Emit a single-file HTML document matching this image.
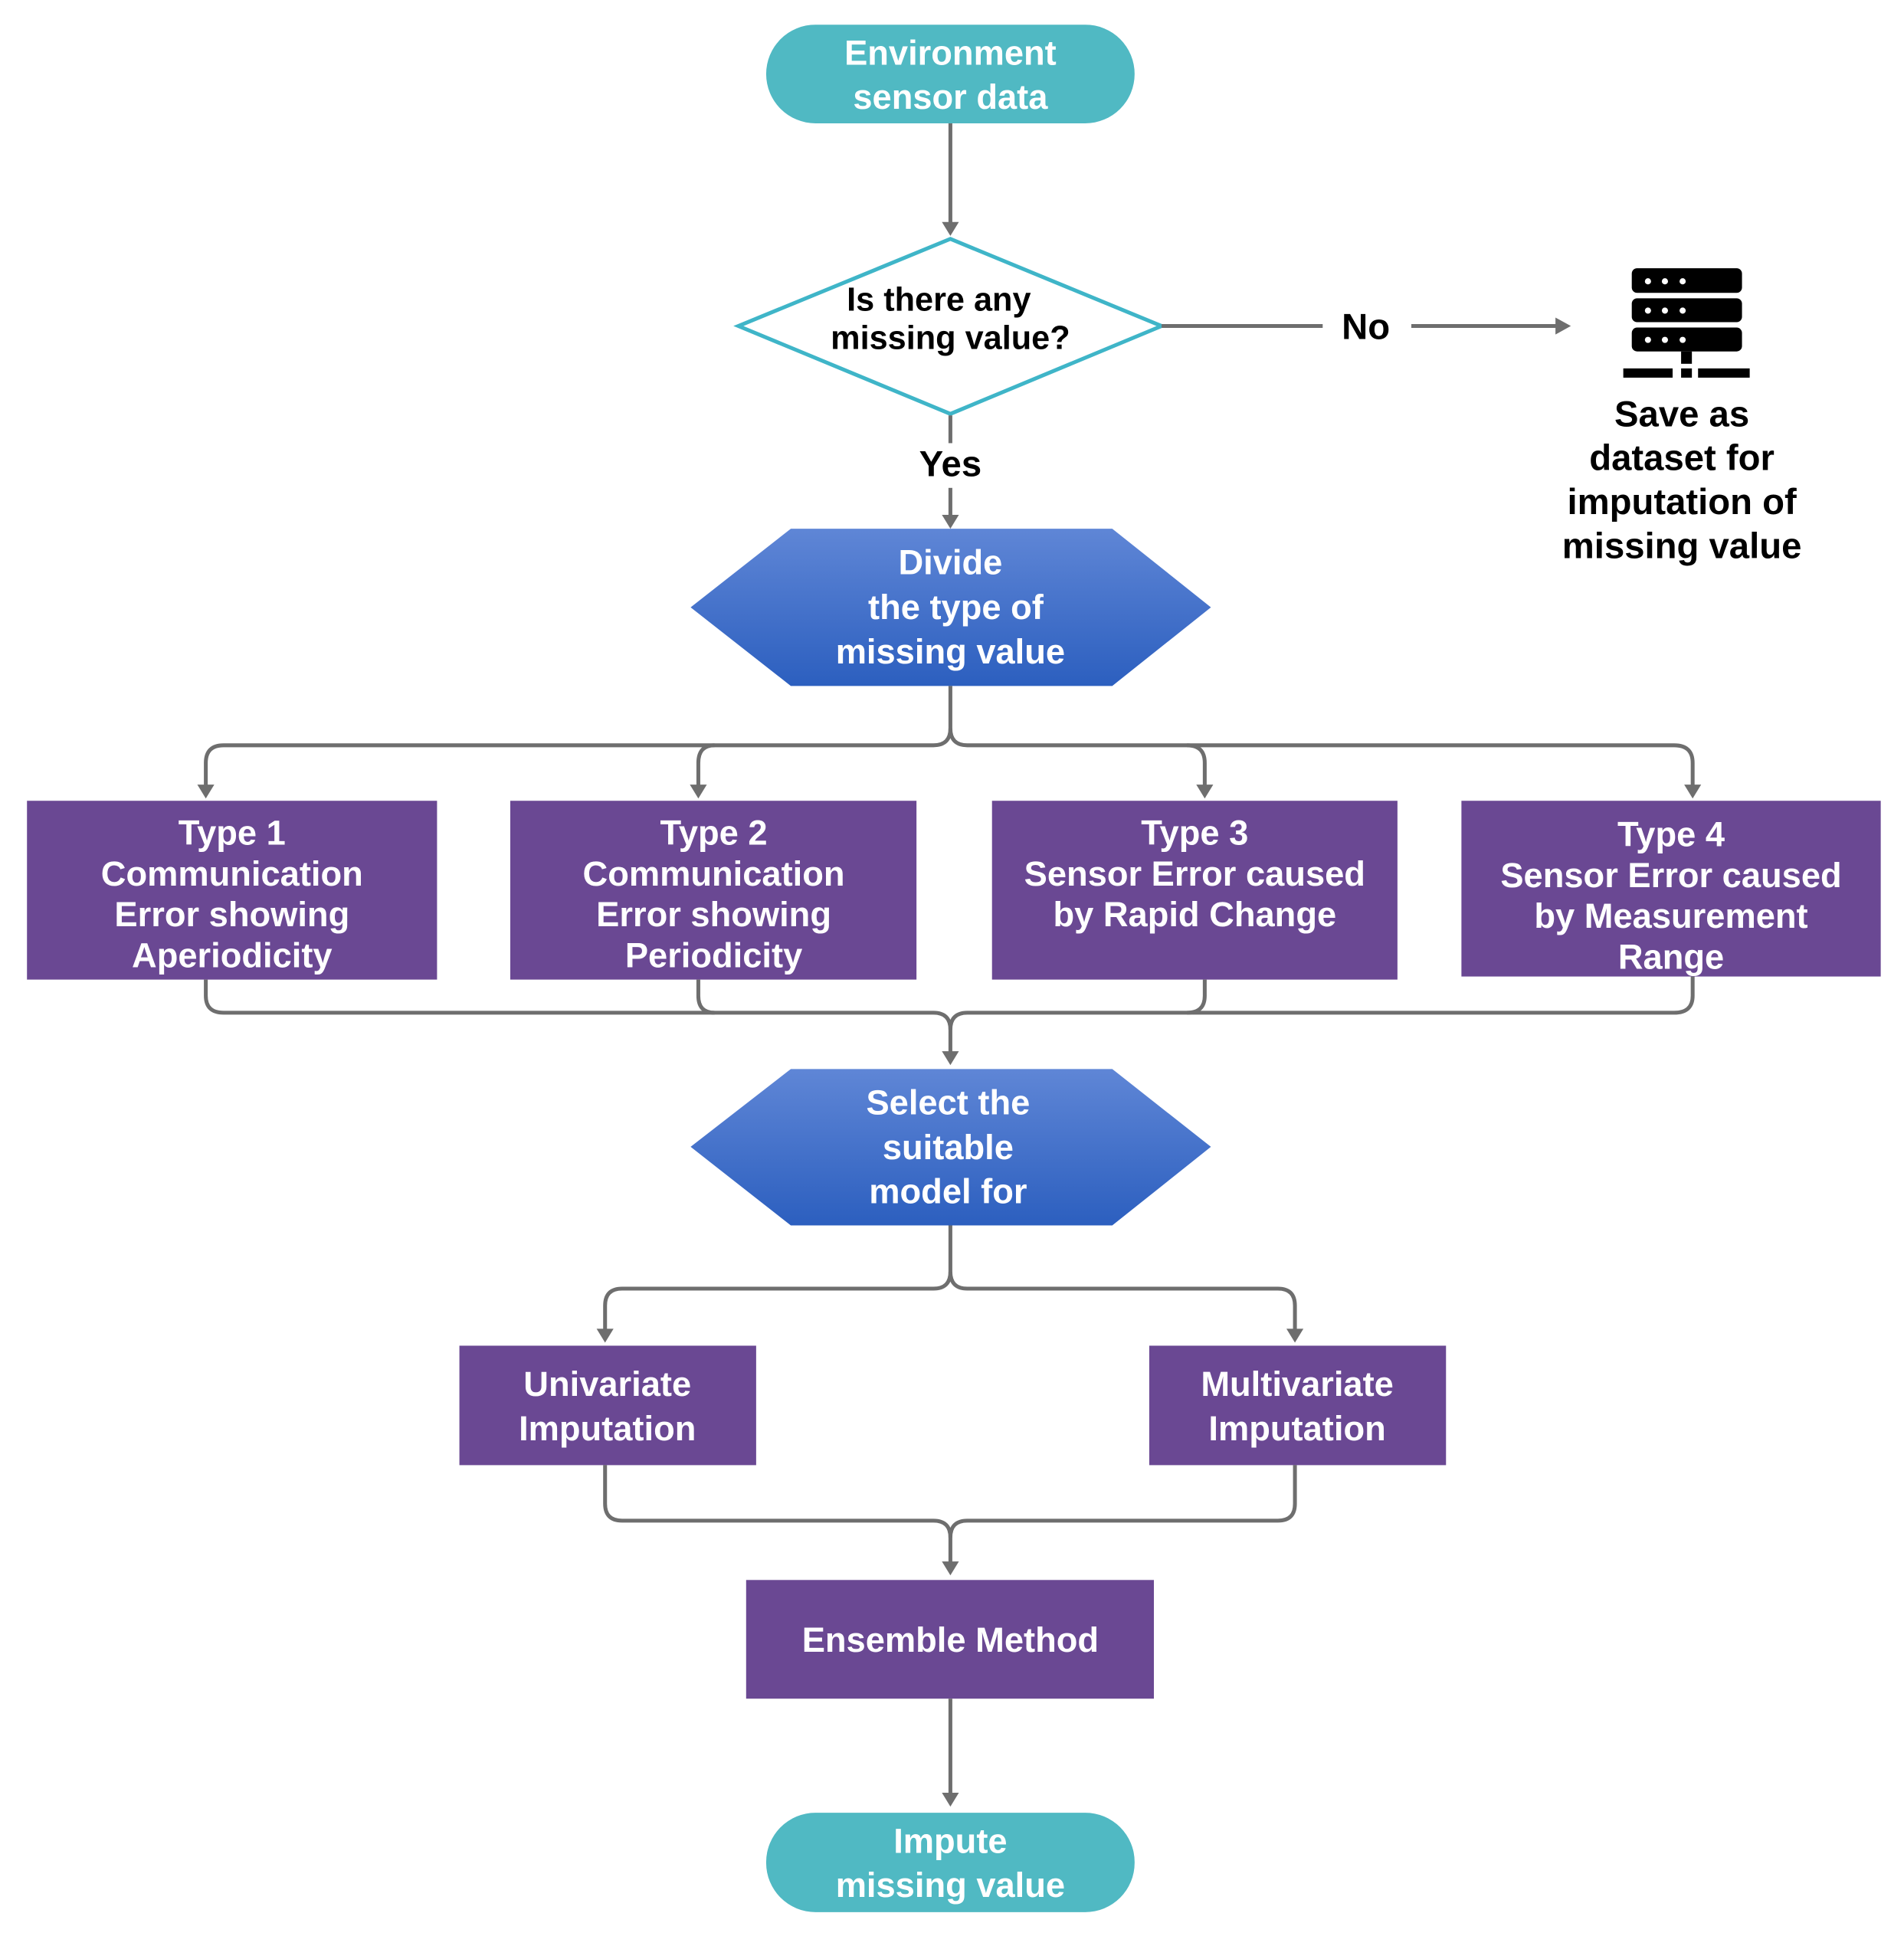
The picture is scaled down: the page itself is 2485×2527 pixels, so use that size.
<!DOCTYPE html>
<html><head><meta charset="utf-8"><style>
html,body{margin:0;padding:0;background:#fff;}
svg{display:block}
text{font-family:"Liberation Sans",sans-serif;font-weight:bold;text-anchor:middle;}
.w{fill:#fff;font-size:45px}
.k{fill:#000;font-size:47px}
.ln{stroke:#6e6e6e;stroke-width:5;fill:none}
</style></head><body>
<svg width="2485" height="2527" viewBox="0 0 2485 2527" xmlns="http://www.w3.org/2000/svg">
<defs>
<linearGradient id="bg" x1="0" y1="0" x2="0" y2="1"><stop offset="0" stop-color="#5f86d6"/><stop offset="1" stop-color="#2c5fbf"/></linearGradient>
</defs>
<g transform="scale(1.006)">
<rect x="994" y="32" width="478" height="128" rx="64" fill="#50b9c3"/>
<text class="w" x="1233" y="84">Environment</text>
<text class="w" x="1233" y="141">sensor data</text>
<line class="ln" x1="1233" y1="160" x2="1233" y2="290"/>
<polygon points="1222,288 1244,288 1233,306" fill="#6e6e6e"/>
<polygon points="1233,310 1507,423 1233,537 958,423" fill="#fff" stroke="#3fb5c8" stroke-width="5"/>
<text class="k" x="1218" y="403" style="font-size:43px">Is there any</text>
<text class="k" x="1233" y="453" style="font-size:43px">missing value?</text>
<line class="ln" x1="1507" y1="423" x2="1716" y2="423"/>
<text class="k" x="1772" y="440">No</text>
<line class="ln" x1="1831" y1="423" x2="2020" y2="423"/>
<polygon points="2018,412 2038,423 2018,434" fill="#6e6e6e"/>
<g fill="#000">
<rect x="2117" y="348" width="143" height="32" rx="7"/>
<rect x="2117" y="387" width="143" height="31" rx="7"/>
<rect x="2117" y="425" width="143" height="31" rx="7"/>
<rect x="2181" y="456" width="14" height="16"/>
<rect x="2106" y="478" width="64" height="12"/>
<rect x="2181" y="478" width="14" height="12"/>
<rect x="2203" y="478" width="67" height="12"/>
</g>
<g fill="#fff">
<circle cx="2138" cy="365" r="4"/><circle cx="2160" cy="365" r="4"/><circle cx="2183" cy="365" r="4"/>
<circle cx="2138" cy="403" r="4"/><circle cx="2160" cy="403" r="4"/><circle cx="2183" cy="403" r="4"/>
<circle cx="2138" cy="441" r="4"/><circle cx="2160" cy="441" r="4"/><circle cx="2183" cy="441" r="4"/>
</g>
<text class="k" x="2182" y="553">Save as</text>
<text class="k" x="2182" y="610">dataset for</text>
<text class="k" x="2182" y="667">imputation of</text>
<text class="k" x="2182" y="724">missing value</text>
<line class="ln" x1="1233" y1="539" x2="1233" y2="575"/>
<text class="k" x="1233" y="618">Yes</text>
<line class="ln" x1="1233" y1="633" x2="1233" y2="670"/>
<polygon points="1222,668 1244,668 1233,686" fill="#6e6e6e"/>
<polygon points="1026,686 1443,686 1571,788 1443,890 1026,890 896,788" fill="url(#bg)"/>
<text class="w" x="1233" y="745">Divide</text>
<text class="w" x="1240" y="803">the type of</text>
<text class="w" x="1233" y="861">missing value</text>
<path class="ln" d="M1233,890 V945 Q1233,967 1211,967 H290 Q267,967 267,990 V1020"/>
<path class="ln" d="M1233,945 Q1233,967 1255,967 H2172 Q2196,967 2196,990 V1020"/>
<path class="ln" d="M927,967 Q906,967 906,990 V1020"/>
<path class="ln" d="M1540,967 Q1563,967 1563,990 V1020"/>
<g fill="#6e6e6e">
<polygon points="256,1018 278,1018 267,1036"/>
<polygon points="895,1018 917,1018 906,1036"/>
<polygon points="1552,1018 1574,1018 1563,1036"/>
<polygon points="2185,1018 2207,1018 2196,1036"/>
</g>
<g fill="#6a4893">
<rect x="35" y="1039" width="532" height="232"/>
<rect x="662" y="1039" width="527" height="232"/>
<rect x="1287" y="1039" width="526" height="232"/>
<rect x="1896" y="1039" width="544" height="228"/>
</g>
<text class="w" x="301" y="1096">Type 1</text>
<text class="w" x="301" y="1149">Communication</text>
<text class="w" x="301" y="1202">Error showing</text>
<text class="w" x="301" y="1255">Aperiodicity</text>
<text class="w" x="926" y="1096">Type 2</text>
<text class="w" x="926" y="1149">Communication</text>
<text class="w" x="926" y="1202">Error showing</text>
<text class="w" x="926" y="1255">Periodicity</text>
<text class="w" x="1550" y="1096">Type 3</text>
<text class="w" x="1550" y="1149">Sensor Error caused</text>
<text class="w" x="1550" y="1202">by Rapid Change</text>
<text class="w" x="2168" y="1098">Type 4</text>
<text class="w" x="2168" y="1151">Sensor Error caused</text>
<text class="w" x="2168" y="1204">by Measurement</text>
<text class="w" x="2168" y="1257">Range</text>
<path class="ln" d="M267,1271 V1292 Q267,1314 290,1314 H1211 Q1233,1314 1233,1336 V1366"/>
<path class="ln" d="M2196,1267 V1292 Q2196,1314 2172,1314 H1255 Q1233,1314 1233,1336"/>
<path class="ln" d="M906,1271 V1292 Q906,1314 927,1314"/>
<path class="ln" d="M1563,1271 V1292 Q1563,1314 1540,1314"/>
<polygon points="1222,1364 1244,1364 1233,1382" fill="#6e6e6e"/>
<polygon points="1026,1387 1443,1387 1571,1488 1443,1590 1026,1590 896,1488" fill="url(#bg)"/>
<text class="w" x="1230" y="1446">Select the</text>
<text class="w" x="1230" y="1504">suitable</text>
<text class="w" x="1230" y="1561">model for</text>
<path class="ln" d="M1233,1590 V1650 Q1233,1672 1211,1672 H807 Q785,1672 785,1694 V1726"/>
<path class="ln" d="M1233,1650 Q1233,1672 1255,1672 H1658 Q1680,1672 1680,1694 V1726"/>
<polygon points="774,1724 796,1724 785,1742" fill="#6e6e6e"/>
<polygon points="1669,1724 1691,1724 1680,1742" fill="#6e6e6e"/>
<rect x="596" y="1746" width="385" height="155" fill="#6a4893"/>
<rect x="1491" y="1746" width="385" height="155" fill="#6a4893"/>
<text class="w" x="788" y="1811">Univariate</text>
<text class="w" x="788" y="1869">Imputation</text>
<text class="w" x="1683" y="1811">Multivariate</text>
<text class="w" x="1683" y="1869">Imputation</text>
<path class="ln" d="M785,1901 V1951 Q785,1973 807,1973 H1211 Q1233,1973 1233,1995 V2028"/>
<path class="ln" d="M1680,1901 V1951 Q1680,1973 1658,1973 H1255 Q1233,1973 1233,1995"/>
<polygon points="1222,2026 1244,2026 1233,2044" fill="#6e6e6e"/>
<rect x="968" y="2050" width="529" height="154" fill="#6a4893"/>
<text class="w" x="1233" y="2143">Ensemble Method</text>
<line class="ln" x1="1233" y1="2204" x2="1233" y2="2328"/>
<polygon points="1222,2326 1244,2326 1233,2344" fill="#6e6e6e"/>
<rect x="994" y="2352" width="478" height="129" rx="64" fill="#50b9c3"/>
<text class="w" x="1233" y="2404">Impute</text>
<text class="w" x="1233" y="2461">missing value</text>
</g>
</svg>
</body></html>
